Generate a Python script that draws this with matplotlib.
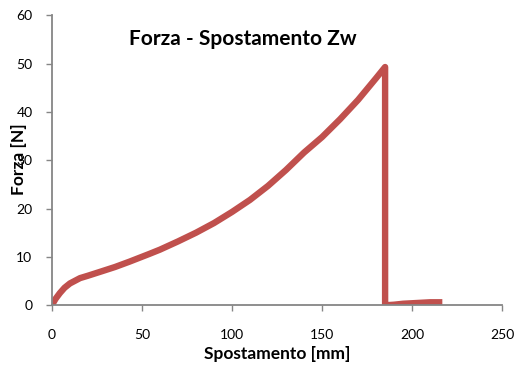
import matplotlib
matplotlib.use("Agg")
import matplotlib.pyplot as plt

plt.rcParams['font.family'] = ['Lato', 'DejaVu Sans']

# data
spostamento = [0, 2, 4.4, 7, 10, 15.6, 20, 26.7, 35, 43, 54, 60, 70, 80, 90,
               100, 110, 120, 130, 140, 150, 160, 170, 180, 185,
               185, 186, 190, 195, 200, 205, 210, 215]
forza = [0, 1.3, 2.5, 3.6, 4.5, 5.6, 6.1, 6.9, 7.9, 9.0, 10.6, 11.5, 13.2, 15.0,
         17.0, 19.3, 21.8, 24.7, 28.0, 31.6, 34.8, 38.5, 42.5, 47.0, 49.3,
         0.0, 0.0, 0.1, 0.3, 0.4, 0.5, 0.6, 0.6]

xticks = [0, 50, 100, 150, 200, 250]
yticks = [0, 10, 20, 30, 40, 50, 60]

fig = plt.figure(figsize=(5.14, 3.74), dpi=100)
ax = fig.add_axes([0.101, 0.184, 0.876, 0.775])
ax.plot(spostamento, forza, color='#C0504D', lw=4.6, solid_joinstyle='round')

ax.set_xlim(0, 250)
ax.set_ylim(0, 60)
ax.set_xticks(xticks)
ax.set_yticks(yticks)
for s in ['top', 'right']:
    ax.spines[s].set_visible(False)
for s in ['left', 'bottom']:
    ax.spines[s].set_color('#868686')
    ax.spines[s].set_linewidth(1.3)
ax.tick_params(colors='#868686', labelcolor='black', labelsize=10, length=4, width=1)
ax.tick_params(axis='y', pad=10)
ax.tick_params(axis='x', pad=13)

ax.set_xlabel('Spostamento [mm]', fontsize=12.5, fontweight='bold', labelpad=4)
ax.set_ylabel('Forza [N]', fontsize=12.5, fontweight='bold', va='center')
ax.yaxis.set_label_coords(-0.073, 0.503)
ax.text(0.425, 0.917, 'Forza - Spostamento Zw', transform=ax.transAxes,
        ha='center', va='center', fontsize=15, fontweight='bold')

fig.savefig('out.png', dpi=100)
